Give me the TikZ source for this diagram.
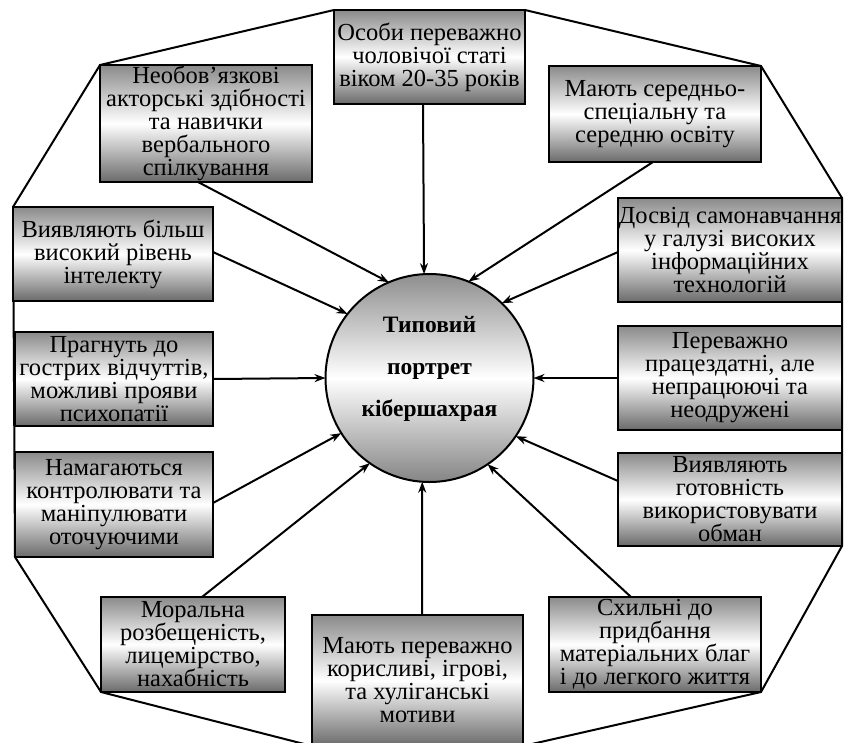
\documentclass[tikz,border=0pt]{standalone}
\usepackage{fontspec}
\setmainfont{Liberation Serif}
\usetikzlibrary{arrows.meta,shadings,backgrounds}
\definecolor{boxtop}{HTML}{8A8A8A}
\definecolor{boxbot}{HTML}{6A6A6A}
\definecolor{circtop}{HTML}{8E8E8E}
\definecolor{circbot}{HTML}{858585}
\tikzset{
  box/.style={draw=black, line width=2.4pt, top color=boxtop, bottom color=boxbot, middle color=white, inner sep=0pt, outer sep=0pt},
  txt/.style={align=center, inner sep=0pt, font=\fontsize{24.5}{23}\selectfont},
  ctxt/.style={align=center, inner sep=0pt, font=\fontsize{23.5}{42}\selectfont\bfseries},
  ring/.style={draw=black, line width=2pt, line join=miter},
  arr/.style={line width=2pt, -{Stealth[length=11pt,width=8pt]}},
  hub/.style={circle, draw=black, line width=2pt, top color=circtop, bottom color=circbot, middle color=white, minimum size=208pt, inner sep=0pt, outer sep=0pt}
}
\begin{document}
\begin{tikzpicture}[x=1pt,y=-1pt]
\useasboundingbox (0,0) rectangle (846,742);
% boxes
\node[box, minimum width=191pt, minimum height=94pt] (b1) at (429.5,57) {};
\node[box, minimum width=212pt, minimum height=117pt] (b2) at (206,123.5) {};
\node[box, minimum width=212pt, minimum height=96pt] (b3) at (655,114) {};
\node[box, minimum width=200pt, minimum height=94pt] (b4) at (113,254) {};
\node[box, minimum width=224pt, minimum height=104pt] (b5) at (730,250) {};
\node[box, minimum width=198pt, minimum height=94pt] (b6) at (114,379) {};
\node[box, minimum width=224pt, minimum height=104pt] (b7) at (730,378) {};
\node[box, minimum width=198pt, minimum height=105pt] (b8) at (114,504.5) {};
\node[box, minimum width=224pt, minimum height=93pt] (b9) at (730,499.5) {};
\node[box, minimum width=184pt, minimum height=95pt] (b10) at (193,644.5) {};
\node[box, minimum width=211pt, minimum height=131pt] (b11) at (417.5,680.5) {};
\node[box, minimum width=212pt, minimum height=95pt] (b12) at (655,644.5) {};
% outline behind the boxes
\begin{scope}[on background layer]
\draw[ring] (b2.north west) -- (b1.north west) -- (b1.north east) -- (b3.north east)
  -- (b5.north east) -- (b9.south east) -- (b12.south east) -- (b11.south east)
  -- (b11.south west) -- (b10.south west) -- (b8.south west) -- (b4.north west) -- cycle;
\end{scope}
% texts
\node[txt] (t1) at (b1) {Особи переважно\\чоловічої статі\\віком 20-35 років};
\node[txt] (t2) at (b2) {Необов’язкові\\акторські здібності\\та навички\\вербального\\спілкування};
\node[txt] (t3) at (b3) {Мають середньо-\\спеціальну та\\середню освіту};
\node[txt] (t4) at (b4) {Виявляють більш\\високий рівень\\інтелекту};
\node[txt] (t5) at (b5) {Досвід самонавчання\\у галузі високих\\інформаційних\\технологій};
\node[txt] (t6) at (b6) {Прагнуть до\\гострих відчуттів,\\можливі прояви\\психопатії};
\node[txt] (t7) at (b7) {Переважно\\працездатні, але\\непрацюючі та\\неодружені};
\node[txt] (t8) at (b8) {Намагаються\\контролювати та\\маніпулювати\\оточуючими};
\node[txt] (t9) at (b9) {Виявляють\\готовність\\використовувати\\обман};
\node[txt] (t10) at (b10) {Моральна\\розбещеність,\\лицемірство,\\нахабність};
\node[txt] (t11) at (b11) {Мають переважно\\корисливі, ігрові,\\та хуліганські\\мотиви};
\node[txt] (t12) at (b12) {Схильні до\\придбання\\матеріальних благ\\і до легкого життя};
% hub
\node[hub] (c) at (429.5,378) {};
\node[ctxt] (ct) at (429.5,369) {Типовий\\портрет\\кібершахрая};
% arrows
\draw[arr] ([xshift=-6.5pt]b1.south) -- (c.93.6);
\draw[arr] ([xshift=-8pt]b2.south) -- (c.113.6);
\draw[arr] ([xshift=-2pt]b3.south) -- (c.68.7);
\draw[arr] ([yshift=2pt]b4.east) -- (c.142.5);
\draw[arr] ([yshift=-2pt]b5.west) -- (c.46);
\draw[arr] (b6.east) -- (c.180);
\draw[arr] (b7.west) -- (c.0);
\draw[arr] ([yshift=1.5pt]b8.east) -- (c.212.2);
\draw[arr] ([yshift=18.5pt]b9.west) -- (c.326.5);
\draw[arr] ([xshift=9pt]b10.north) -- (c.235.4);
\draw[arr] ([xshift=4.5pt]b11.north) -- (c.266);
\draw[arr] ([xshift=-24pt]b12.north) -- (c.304.8);
\end{tikzpicture}
\end{document}
